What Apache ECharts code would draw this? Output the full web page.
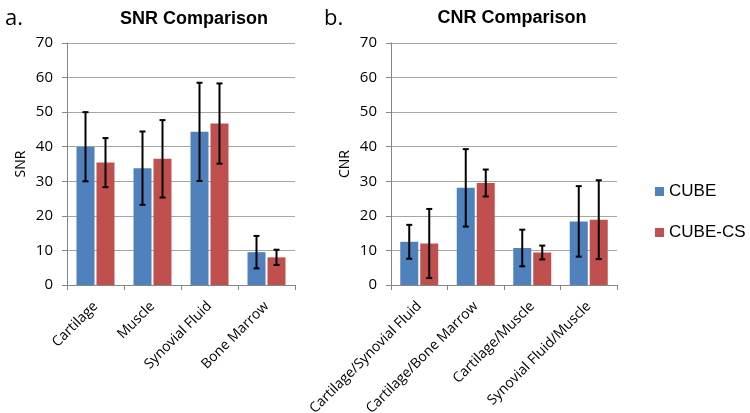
<!DOCTYPE html>
<html><head><meta charset="utf-8">
<script src="https://cdn.jsdelivr.net/npm/echarts@6/dist/echarts.min.js"></script>
<style>html,body{margin:0;padding:0;background:#fff}#c{width:750px;height:413px}</style>
</head><body><div id="c"></div>
<script>
const snrCategories = ['Cartilage', 'Muscle', 'Synovial Fluid', 'Bone Marrow'];
const snrCube = [40.0, 33.8, 44.3, 9.5];
const snrCubeErr = [10.0, 10.6, 14.2, 4.7];
const snrCubeCS = [35.4, 36.5, 46.7, 8.0];
const snrCubeCSErr = [7.1, 11.2, 11.6, 2.2];

const cnrCategories = ['Cartilage/Synovial Fluid', 'Cartilage/Bone Marrow', 'Cartilage/Muscle', 'Synovial Fluid/Muscle'];
const cnrCube = [12.5, 28.1, 10.7, 18.4];
const cnrCubeErr = [4.9, 11.2, 5.3, 10.2];
const cnrCubeCS = [12.0, 29.5, 9.4, 18.9];
const cnrCubeCSErr = [10.0, 3.9, 2.0, 11.4];

const yTicks = [0, 10, 20, 30, 40, 50, 60, 70];

const BLUE = '#4F81BD', RED = '#C0504D';
const BAR_W = 18, OFFSET = 10;

function errData(vals, errs) {
  return vals.map((v, i) => [i, v - errs[i], v + errs[i]]);
}
function errSeries(idx, vals, errs, offset) {
  return {
    type: 'custom', xAxisIndex: idx, yAxisIndex: idx, silent: true, z: 10,
    encode: {x: 0, y: [1, 2]},
    data: errData(vals, errs),
    renderItem: function (params, api) {
      const c = api.value(0);
      const lo = api.coord([c, api.value(1)]);
      const hi = api.coord([c, api.value(2)]);
      const x = lo[0] + offset;
      const st = {stroke: '#000', lineWidth: 2};
      return {type: 'group', children: [
        {type: 'line', shape: {x1: x, y1: lo[1], x2: x, y2: hi[1]}, style: st},
        {type: 'line', shape: {x1: x - 3, y1: lo[1], x2: x + 3, y2: lo[1]}, style: st},
        {type: 'line', shape: {x1: x - 3, y1: hi[1], x2: x + 3, y2: hi[1]}, style: st}
      ]};
    }
  };
}
function xAxis(idx, cats) {
  return {
    type: 'category', gridIndex: idx, data: cats,
    axisLine: {lineStyle: {color: '#868686', width: 1}},
    axisTick: {show: true, alignWithLabel: false, length: 5, lineStyle: {color: '#868686'}},
    axisLabel: {rotate: 45, interval: 0, margin: 19, color: '#000', fontSize: 14, fontFamily: 'Open Sans'}
  };
}
function yAxis(idx, name) {
  return {
    type: 'value', gridIndex: idx, min: 0, max: 70, interval: 10,
    name: name, nameLocation: 'middle', nameGap: 39, nameRotate: 90,
    nameTextStyle: {color: '#000', fontSize: 14, fontFamily: 'Open Sans'},
    axisLine: {show: true, lineStyle: {color: '#868686'}},
    axisTick: {show: true, length: 5, inside: false, lineStyle: {color: '#868686'}},
    axisLabel: {color: '#000', fontSize: 15, fontFamily: 'Open Sans', margin: 14,
      formatter: v => yTicks.indexOf(v) >= 0 ? String(v) : ''},
    splitLine: {lineStyle: {color: '#A6A6A6', width: 1}}
  };
}
const chart = echarts.init(document.getElementById('c'), null, {renderer: 'canvas'});
chart.setOption({
  animation: false,
  backgroundColor: '#fff',
  title: [
    {text: 'SNR Comparison', left: 189, top: 5, textAlign: 'center',
      textStyle: {fontSize: 18, fontWeight: 'bold', fontFamily: 'Liberation Sans', color: '#000'}},
    {text: 'CNR Comparison', left: 507, top: 4, textAlign: 'center',
      textStyle: {fontSize: 18, fontWeight: 'bold', fontFamily: 'Liberation Sans', color: '#000'}},
    {text: 'a.', left: 0, top: 3, textStyle: {fontSize: 22, fontWeight: 'normal', fontFamily: 'Open Sans', color: '#000'}},
    {text: 'b.', left: 319, top: 3, textStyle: {fontSize: 22, fontWeight: 'normal', fontFamily: 'Open Sans', color: '#000'}}
  ],
  legend: {
    orient: 'vertical', left: 650, top: 178, itemGap: 24,
    itemWidth: 9, itemHeight: 9, icon: 'rect',
    textStyle: {fontSize: 17, fontFamily: 'Liberation Sans', color: '#000'},
    data: ['CUBE', 'CUBE-CS']
  },
  grid: [
    {left: 67, top: 43, width: 228, bottom: 128, containLabel: false, outerBoundsMode: 'none'},
    {left: 391, top: 43, width: 226, bottom: 128, containLabel: false, outerBoundsMode: 'none'}
  ],
  xAxis: [xAxis(0, snrCategories), xAxis(1, cnrCategories)],
  yAxis: [yAxis(0, 'SNR'), yAxis(1, 'CNR')],
  series: [
    {name: 'CUBE', type: 'bar', xAxisIndex: 0, yAxisIndex: 0, data: snrCube, barWidth: BAR_W, barGap: '11%', itemStyle: {color: BLUE}},
    {name: 'CUBE-CS', type: 'bar', xAxisIndex: 0, yAxisIndex: 0, data: snrCubeCS, barWidth: BAR_W, barGap: '11%', itemStyle: {color: RED}},
    {name: 'CUBE', type: 'bar', xAxisIndex: 1, yAxisIndex: 1, data: cnrCube, barWidth: BAR_W, barGap: '11%', itemStyle: {color: BLUE}},
    {name: 'CUBE-CS', type: 'bar', xAxisIndex: 1, yAxisIndex: 1, data: cnrCubeCS, barWidth: BAR_W, barGap: '11%', itemStyle: {color: RED}},
    errSeries(0, snrCube, snrCubeErr, -OFFSET),
    errSeries(0, snrCubeCS, snrCubeCSErr, OFFSET),
    errSeries(1, cnrCube, cnrCubeErr, -OFFSET),
    errSeries(1, cnrCubeCS, cnrCubeCSErr, OFFSET)
  ]
});
</script></body></html>
